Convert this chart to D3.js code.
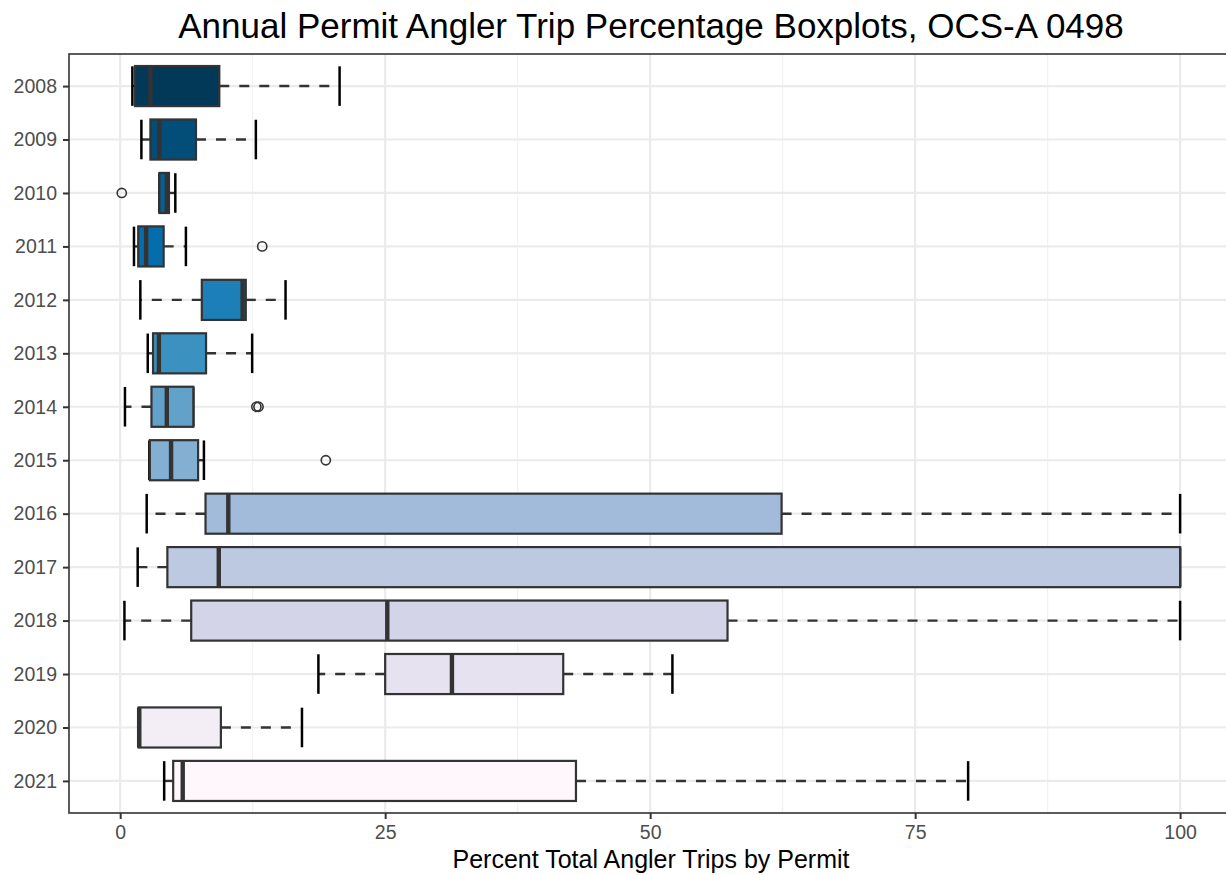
<!DOCTYPE html>
<html>
<head>
<meta charset="utf-8">
<script src="https://cdn.jsdelivr.net/npm/d3@7/dist/d3.min.js"></script>
<style>
  html, body { margin: 0; padding: 0; background: #fff; }
  svg { display: block; font-family: "Liberation Sans", Arial, Helvetica, sans-serif; }
</style>
</head>
<body>
<svg id="chart" width="1226" height="875"></svg>
<script>
// ---- data ----
const years = ["2008","2009","2010","2011","2012","2013","2014","2015","2016","2017","2018","2019","2020","2021"];
const lowerWhisker = [1.15, 2.0, 3.7, 1.3, 1.9, 2.6, 0.45, 2.75, 2.5, 1.65, 0.4, 18.7, 1.7, 4.15];
const q1           = [1.4, 2.85, 3.7, 1.7, 7.7, 3.1, 2.95, 2.8, 8.05, 4.45, 6.7, 25.0, 1.75, 5.0];
const medians      = [2.85, 3.7, 4.4, 2.45, 11.55, 3.65, 4.4, 4.8, 10.2, 9.3, 25.2, 31.3, 1.8, 5.9];
const q3           = [9.35, 7.15, 4.6, 4.1, 11.85, 8.1, 6.9, 7.35, 62.4, 100, 57.3, 41.8, 9.5, 43.0];
const upperWhisker = [20.7, 12.8, 5.2, 6.2, 15.6, 12.45, 6.9, 7.9, 100, 100, 100, 52.1, 17.15, 80.0];
const outliers     = [[], [], [0.15], [13.4], [], [], [12.85, 13.05], [19.4], [], [], [], [], [], []];
const fills = ["#023858","#034D79","#045F95","#056DAB","#1C7FB7","#3B92C1","#61A1CA",
               "#83AFD3","#A2BBDA","#BDC8E1","#D4D4E8","#E6E2EF","#F3EDF5","#FFF7FB"];
const xTicks = [0, 25, 50, 75, 100];
const xMinor = [12.5, 37.5, 62.5, 87.5];
const titleText = "Annual Permit Angler Trip Percentage Boxplots, OCS-A 0498";
const xTitleText = "Percent Total Angler Trips by Permit";

const rows = years.map((y, i) => ({
  year: y, lo: lowerWhisker[i], q1: q1[i], med: medians[i], q3: q3[i],
  hi: upperWhisker[i], out: outliers[i], fill: fills[i]
}));

// ---- layout ----
const panel = { left: 69, right: 1233, top: 54, bottom: 813 };
const svg = d3.select("#chart");

const x = d3.scaleLinear().domain([-4.83, 104.99]).range([panel.left, panel.right]);
const y = d3.scalePoint().domain(years).range([panel.top, panel.bottom]).padding(0.6);
const step = y.step();
const boxH = step * 0.75;
const capH = step * 0.74;

svg.append("defs").append("clipPath").attr("id", "pclip")
  .append("rect").attr("x", panel.left).attr("y", panel.top)
  .attr("width", panel.right - panel.left).attr("height", panel.bottom - panel.top);

const g = svg.append("g").attr("clip-path", "url(#pclip)");

// grid
g.selectAll(".minor").data(xMinor).join("line")
  .attr("x1", d => x(d)).attr("x2", d => x(d))
  .attr("y1", panel.top).attr("y2", panel.bottom)
  .attr("stroke", "#F2F2F2").attr("stroke-width", 1.2);
g.selectAll(".majorx").data(xTicks).join("line")
  .attr("x1", d => x(d)).attr("x2", d => x(d))
  .attr("y1", panel.top).attr("y2", panel.bottom)
  .attr("stroke", "#EBEBEB").attr("stroke-width", 2.2);
g.selectAll(".majory").data(years).join("line")
  .attr("x1", panel.left).attr("x2", panel.right)
  .attr("y1", d => y(d)).attr("y2", d => y(d))
  .attr("stroke", "#EBEBEB").attr("stroke-width", 2.2);

// whiskers (dashed) from box edges outward
const wk = g.append("g");
rows.forEach(r => {
  const cy = y(r.year);
  [[r.q1, r.lo], [r.q3, r.hi]].forEach(([a, b]) => {
    if (a !== b) {
      wk.append("line")
        .attr("x1", x(a)).attr("x2", x(b)).attr("y1", cy).attr("y2", cy)
        .attr("stroke", "#333333").attr("stroke-width", 2.4)
        .attr("stroke-dasharray", "10,10");
    }
  });
});

// caps
g.selectAll(".cap").data(rows.flatMap(r => [{r, v: r.lo}, {r, v: r.hi}])).join("line")
  .attr("x1", d => x(d.v)).attr("x2", d => x(d.v))
  .attr("y1", d => y(d.r.year) - capH / 2).attr("y2", d => y(d.r.year) + capH / 2)
  .attr("stroke", "#000").attr("stroke-width", 2.5);

// boxes
g.selectAll(".box").data(rows).join("rect")
  .attr("x", d => x(d.q1)).attr("width", d => x(d.q3) - x(d.q1))
  .attr("y", d => y(d.year) - boxH / 2).attr("height", boxH)
  .attr("fill", d => d.fill).attr("stroke", "#333333").attr("stroke-width", 2.2);

// medians
g.selectAll(".med").data(rows).join("line")
  .attr("x1", d => x(d.med)).attr("x2", d => x(d.med))
  .attr("y1", d => y(d.year) - boxH / 2).attr("y2", d => y(d.year) + boxH / 2)
  .attr("stroke", "#333333").attr("stroke-width", 4.4);

// outliers
g.selectAll(".out").data(rows.flatMap(r => r.out.map(v => ({r, v})))).join("circle")
  .attr("cx", d => x(d.v)).attr("cy", d => y(d.r.year)).attr("r", 4.6)
  .attr("fill", "none").attr("stroke", "#333333").attr("stroke-width", 1.6);

// panel border
svg.append("rect")
  .attr("x", panel.left).attr("y", panel.top)
  .attr("width", panel.right - panel.left).attr("height", panel.bottom - panel.top)
  .attr("fill", "none").attr("stroke", "#333333").attr("stroke-width", 1.6);

// axes
const xAxis = svg.append("g").attr("transform", `translate(0,${panel.bottom})`)
  .call(d3.axisBottom(x).tickValues(xTicks).tickSize(6).tickPadding(6).tickFormat(d3.format("d")));
const yAxis = svg.append("g").attr("transform", `translate(${panel.left},0)`)
  .call(d3.axisLeft(y).tickSize(6).tickPadding(6));
[xAxis, yAxis].forEach(a => {
  a.select(".domain").remove();
  a.selectAll(".tick line").attr("stroke", "#333333").attr("stroke-width", 2);
  a.selectAll(".tick text").attr("fill", "#4D4D4D").style("font-size", "19.5px")
    .style("font-family", '"Liberation Sans", Arial, sans-serif');
});

// titles
svg.append("text").attr("x", (panel.left + panel.right) / 2).attr("y", 38)
  .attr("text-anchor", "middle").attr("fill", "#000").style("font-size", "35px")
  .text(titleText);
svg.append("text").attr("x", (panel.left + panel.right) / 2).attr("y", 868)
  .attr("text-anchor", "middle").attr("fill", "#000").style("font-size", "25px")
  .text(xTitleText);
</script>
</body>
</html>
